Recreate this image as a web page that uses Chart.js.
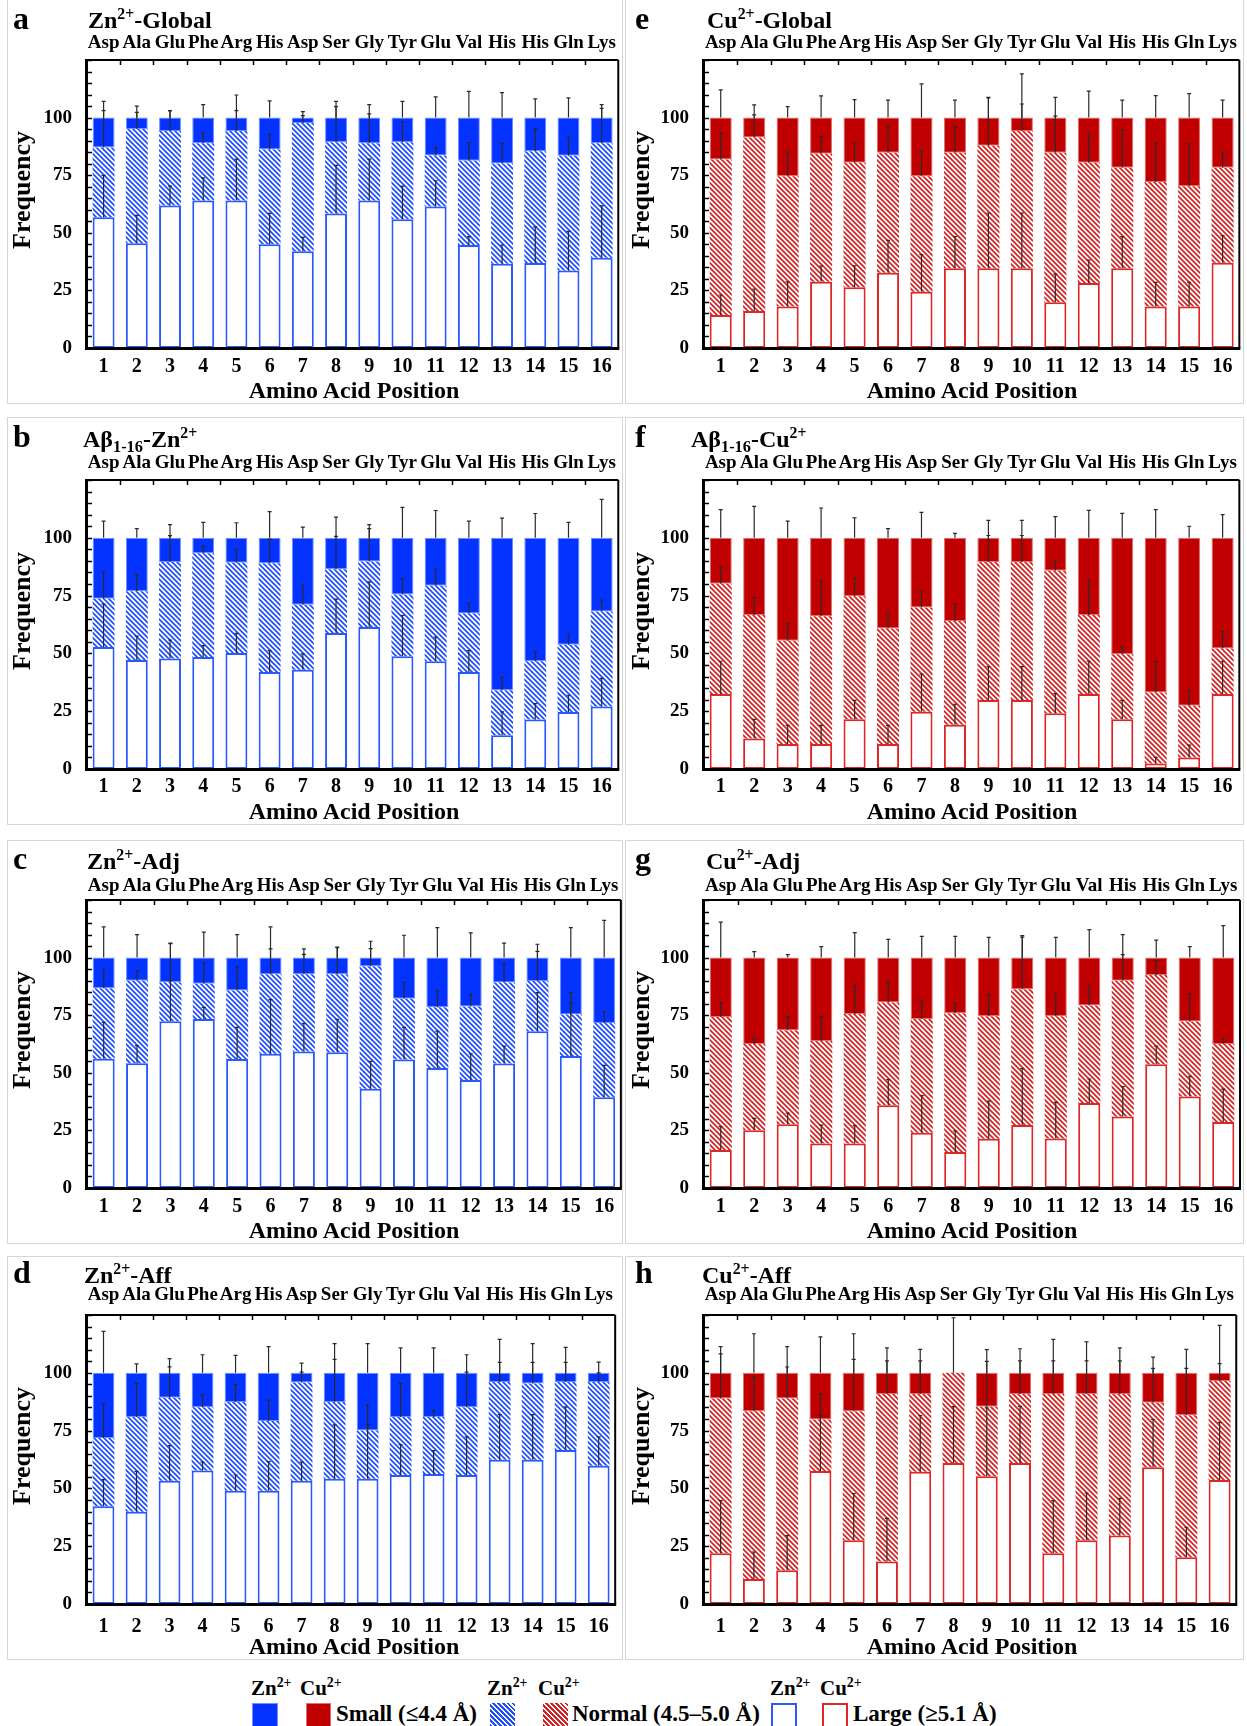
<!DOCTYPE html>
<html>
<head>
<meta charset="utf-8">
<script src="https://cdn.jsdelivr.net/npm/chart.js@4.4.1/dist/chart.umd.min.js"></script>
<style>
  body { margin: 0; background: #fff; width: 1247px; height: 1726px; position: relative; overflow: hidden;
         font-family: "Liberation Serif", "Times New Roman", serif; font-weight: bold; color: #000; }
  .box { position: absolute; border: 1px solid #d6d6d6; box-sizing: border-box; }
  canvas { position: absolute; }
  .t { position: absolute; white-space: nowrap; line-height: 1; }
  sup { font-size: 0.66em; vertical-align: 0.55em; line-height: 0; }
  sub { font-size: 0.68em; vertical-align: -0.28em; line-height: 0; }
  .sw { position: absolute; box-sizing: border-box; }
</style>
</head>
<body>
<script>
// ---- categories ----
const positions = ["1","2","3","4","5","6","7","8","9","10","11","12","13","14","15","16"];
const residues = ["Asp","Ala","Glu","Phe","Arg","His","Asp","Ser","Gly","Tyr","Glu","Val","His","His","Gln","Lys"];

// ---- a: Zn2+-Global ----
const znGlobalLarge  = [56.8,45.5,61.8,64.0,64.0,45.0,42.0,58.4,64.0,55.9,61.4,44.7,36.6,36.9,33.6,39.2];
const znGlobalNormal = [30.2,49.5,32.4,24.9,30.2,41.2,55.7,30.9,24.9,33.4,22.2,36.6,43.5,48.5,49.8,49.7];
const znGlobalSmall  = [13.0,5.0,5.8,11.1,5.8,13.8,2.3,10.7,11.1,10.7,16.4,18.7,19.9,14.6,16.6,11.1];
const znGlobalErrLarge  = [18.1,12.1,8.5,9.8,18.0,13.4,6.0,20.9,18.0,14.4,11.2,3.6,8.1,15.7,17.0,22.5];
const znGlobalErrNormal = [16.0,7.3,8.8,4.5,8.8,6.6,3.2,15.5,12.7,8.8,3.4,7.9,8.7,9.8,8.4,15.1];
const znGlobalErrSmall  = [7.0,5.0,3.0,5.6,9.8,7.3,2.6,7.0,5.6,7.0,9.0,11.4,10.8,8.1,8.6,5.6];

// ---- b: Ab1-16-Zn2+ ----
const abZnLarge  = [52.8,47.1,47.8,48.4,50.2,42.0,42.9,58.8,61.4,48.8,46.6,42.0,14.6,21.4,24.7,27.0];
const abZnNormal = [20.8,29.8,41.7,44.9,39.0,47.0,28.1,27.6,28.3,26.7,32.7,25.3,19.5,25.2,29.0,41.1];
const abZnSmall  = [26.4,23.1,10.5,6.7,10.8,11.0,29.0,13.6,10.3,24.5,20.7,32.7,65.9,53.4,46.3,31.9];
const abZnErrLarge  = [18.5,10.4,8.0,5.0,8.5,9.2,6.9,14.7,19.5,17.6,10.4,9.2,10.1,6.9,7.2,12.2];
const abZnErrNormal = [11.6,7.3,11.4,3.0,5.8,10.4,8.9,14.2,14.3,6.7,7.2,4.4,5.6,4.3,4.7,4.9];
const abZnErrSmall  = [7.2,4.0,5.7,6.7,6.5,11.3,4.6,8.9,5.7,13.2,11.8,7.2,8.5,10.5,6.7,16.6];

// ---- c: Zn2+-Adj ----
const znAdjLarge  = [56.1,54.1,72.4,73.3,56.0,58.3,59.2,58.9,43.1,55.8,52.1,46.9,54.0,68.0,57.3,39.4];
const znAdjNormal = [30.6,35.9,16.9,15.4,29.7,34.5,33.6,33.9,53.1,26.3,26.3,31.9,35.2,21.8,18.0,32.2];
const znAdjSmall  = [13.3,10.0,10.7,11.3,14.3,7.2,7.2,7.2,3.8,17.9,21.6,21.2,10.8,10.2,24.7,28.4];
const znAdjErrLarge  = [15.8,7.7,17.6,5.1,13.7,23.5,12.2,14.3,11.9,13.9,16.0,11.3,7.6,16.8,22.8,13.8];
const znAdjErrNormal = [8.1,4.4,16.8,9.0,10.3,11.0,8.6,11.5,7.7,7.2,7.3,5.3,8.2,12.9,9.5,5.0];
const znAdjErrSmall  = [13.3,10.0,6.3,11.1,10.0,13.3,3.8,4.6,7.1,9.7,13.0,10.7,6.3,5.8,13.0,16.2];

// ---- d: Zn2+-Aff ----
const znAffLarge  = [42.3,39.9,53.3,57.7,49.0,49.0,53.3,54.2,54.2,55.8,56.2,55.8,62.4,62.4,66.6,59.8];
const znAffNormal = [29.5,41.0,35.9,27.4,38.4,30.2,42.5,33.2,20.8,25.1,24.7,29.3,33.6,33.0,29.4,36.2];
const znAffSmall  = [28.2,19.1,10.8,14.9,12.6,20.8,4.2,12.6,25.0,19.1,19.1,14.9,4.0,4.6,4.0,4.0];
const znAffErrLarge  = [11.5,17.5,15.2,3.7,6.8,12.6,8.1,23.3,23.3,13.1,10.1,16.5,19.5,19.5,18.7,12.5];
const znAffErrNormal = [15.0,14.5,13.4,5.4,7.5,9.0,4.5,18.4,11.1,14.5,2.6,15.2,8.5,9.1,8.5,4.0];
const znAffErrSmall  = [17.9,3.9,6.1,7.8,7.5,11.3,4.2,12.6,12.6,10.8,10.8,7.8,14.5,12.6,11.0,4.6];

// ---- e: Cu2+-Global ----
const cuGlobalLarge  = [14.3,16.1,18.0,28.8,26.4,32.7,24.4,34.6,34.6,34.6,19.9,28.2,34.6,18.0,18.0,37.0];
const cuGlobalNormal = [67.5,75.3,56.5,55.5,54.0,52.0,50.1,50.1,53.2,59.6,64.8,52.2,43.6,54.0,52.2,41.2];
const cuGlobalSmall  = [18.2,8.6,25.5,15.7,19.6,15.3,25.5,15.3,12.2,5.8,15.3,19.6,21.8,28.0,29.8,21.8];
const cuGlobalErrLarge  = [8.7,9.5,10.7,6.8,9.3,14.0,16.1,13.8,24.0,24.0,12.2,10.0,13.7,10.5,10.5,11.8];
const cuGlobalErrNormal = [11.6,9.8,10.5,7.5,8.8,11.8,11.1,11.3,20.7,11.7,15.9,12.5,16.5,17.2,18.4,6.8];
const cuGlobalErrSmall  = [12.0,5.5,4.8,9.4,7.8,7.6,14.6,7.6,8.8,19.0,8.8,11.5,7.6,9.5,10.4,7.6];

// ---- f: Ab1-16-Cu2+ ----
const abCuLarge  = [32.4,13.2,10.8,10.8,21.5,10.8,24.8,19.1,29.8,29.8,24.1,32.4,21.5,2.4,5.0,32.4];
const abCuNormal = [47.7,53.4,44.7,55.3,53.2,50.0,45.1,44.9,59.7,59.7,61.6,34.2,28.1,30.7,22.4,19.7];
const abCuSmall  = [19.9,33.4,44.5,33.9,25.3,39.2,30.1,36.0,10.5,10.5,14.3,33.4,50.4,66.9,72.6,47.9];
const abCuErrLarge  = [14.2,8.3,8.1,8.1,8.2,8.1,16.2,8.9,14.5,14.5,8.5,14.2,8.2,2.6,5.3,14.2];
const abCuErrNormal = [7.3,7.4,7.6,15.5,7.9,7.1,7.1,7.3,11.5,11.5,4.0,15.0,3.3,13.4,6.6,7.3];
const abCuErrSmall  = [12.2,13.6,7.2,12.9,8.6,4.0,11.0,1.9,7.5,7.5,9.2,11.9,10.6,12.2,5.0,10.0];

// ---- g: Cu2+-Adj ----
const cuAdjLarge  = [16.5,25.1,27.7,19.3,19.3,35.9,24.0,15.6,21.4,27.3,21.5,36.9,31.0,53.7,39.7,28.6];
const cuAdjNormal = [57.7,37.4,40.8,44.5,56.2,44.6,49.3,60.3,53.1,59.0,53.0,42.3,58.9,38.7,32.6,33.9];
const cuAdjSmall  = [25.8,37.5,31.5,36.2,24.5,19.5,26.7,24.1,25.5,13.7,25.5,20.8,10.1,7.6,27.7,37.5];
const cuAdjErrLarge  = [10.1,5.1,4.8,8.0,7.8,11.1,16.1,9.2,16.3,24.5,15.7,10.4,13.0,7.9,8.8,14.3];
const cuAdjErrNormal = [6.3,2.4,5.8,10.5,12.2,9.1,7.7,4.2,9.5,22.6,9.5,8.7,11.4,6.4,12.1,2.4];
const cuAdjErrSmall  = [15.4,2.6,1.3,4.8,10.8,7.9,9.2,9.2,8.8,9.5,8.8,12.1,10.0,7.6,4.8,13.9];

// ---- h: Cu2+-Aff ----
const cuAffLarge  = [22.0,10.8,14.6,57.5,27.6,18.4,57.2,61.0,55.3,61.0,22.0,27.6,29.6,59.1,20.2,53.6];
const cuAffNormal = [66.9,72.6,74.3,22.3,55.8,72.4,33.6,39.0,30.0,29.8,68.8,63.2,61.2,27.9,61.4,42.8];
const cuAffSmall  = [11.1,16.6,11.1,20.2,16.6,9.2,9.2,0,14.7,9.2,9.2,9.2,9.2,13.0,18.4,3.6];
const cuAffErrLarge  = [22.7,11.7,15.0,24.1,20.2,18.6,24.3,24.4,29.5,24.5,22.7,20.4,16.1,20.7,13.0,25.0];
const cuAffErrNormal = [19.3,14.9,13.6,11.2,22.4,14.4,14.4,23.8,19.6,14.4,14.4,14.4,14.4,14.9,20.3,7.6];
const cuAffErrSmall  = [11.3,16.9,11.3,15.5,16.9,10.8,10.1,0,10.0,10.4,14.5,13.4,10.8,6.8,10.1,20.5];

const FONT = '"Liberation Serif", "Times New Roman", serif';

const colors = {
  zn: { solid: "#0433ff", edge: "#2a58ff", hatch: "#1f4dff", soft: "#6f8fff" },
  cu: { solid: "#c00000", edge: "#de2626", hatch: "#d42222", soft: "#e07070" }
};

// page layout, in px
const rowGeo = [
  { top: -2,   h: 406, chartTop: 62, chartBottom: 350, resPad: 7,  numPad: 9,  base: 28.5 },
  { top: 417,  h: 408, chartTop: 63, chartBottom: 352, resPad: 7,  numPad: 8,  base: 447 },
  { top: 840,  h: 404, chartTop: 60, chartBottom: 348, resPad: 4.5, numPad: 8.5, base: 869 },
  { top: 1256, h: 404, chartTop: 59, chartBottom: 348, resPad: 10, numPad: 13, base: 1283 }
];
const colGeo = [
  { left: 7,   w: 616, chartLeft: 80, chartRight: 614, letterX: 13,  freqX: 22 },
  { left: 625, w: 619, chartLeft: 79, chartRight: 615, letterX: 635, freqX: 641 }
];

const panels = [
  { letter: "a", row: 0, col: 0, ion: "zn", title: "Zn<sup>2+</sup>-Global", tx: 88,
    d: [znGlobalLarge, znGlobalNormal, znGlobalSmall], e: [znGlobalErrLarge, znGlobalErrNormal, znGlobalErrSmall] },
  { letter: "b", row: 1, col: 0, ion: "zn", title: "A&beta;<sub>1-16</sub>-Zn<sup>2+</sup>", tx: 83,
    d: [abZnLarge, abZnNormal, abZnSmall], e: [abZnErrLarge, abZnErrNormal, abZnErrSmall] },
  { letter: "c", row: 2, col: 0, ion: "zn", title: "Zn<sup>2+</sup>-Adj", tx: 87,
    d: [znAdjLarge, znAdjNormal, znAdjSmall], e: [znAdjErrLarge, znAdjErrNormal, znAdjErrSmall] },
  { letter: "d", row: 3, col: 0, ion: "zn", title: "Zn<sup>2+</sup>-Aff", tx: 84,
    d: [znAffLarge, znAffNormal, znAffSmall], e: [znAffErrLarge, znAffErrNormal, znAffErrSmall] },
  { letter: "e", row: 0, col: 1, ion: "cu", title: "Cu<sup>2+</sup>-Global", tx: 707,
    d: [cuGlobalLarge, cuGlobalNormal, cuGlobalSmall], e: [cuGlobalErrLarge, cuGlobalErrNormal, cuGlobalErrSmall] },
  { letter: "f", row: 1, col: 1, ion: "cu", title: "A&beta;<sub>1-16</sub>-Cu<sup>2+</sup>", tx: 691,
    d: [abCuLarge, abCuNormal, abCuSmall], e: [abCuErrLarge, abCuErrNormal, abCuErrSmall] },
  { letter: "g", row: 2, col: 1, ion: "cu", title: "Cu<sup>2+</sup>-Adj", tx: 706,
    d: [cuAdjLarge, cuAdjNormal, cuAdjSmall], e: [cuAdjErrLarge, cuAdjErrNormal, cuAdjErrSmall] },
  { letter: "h", row: 3, col: 1, ion: "cu", title: "Cu<sup>2+</sup>-Aff", tx: 702,
    d: [cuAffLarge, cuAffNormal, cuAffSmall], e: [cuAffErrLarge, cuAffErrNormal, cuAffErrSmall] }
];

function hatch(color) {
  const c = document.createElement("canvas");
  c.width = c.height = 5;
  const g = c.getContext("2d");
  g.fillStyle = "#fff";
  g.fillRect(0, 0, 5, 5);
  g.strokeStyle = color;
  g.lineWidth = 1.7;
  g.beginPath();
  g.moveTo(-1, -1); g.lineTo(6, 6);
  g.moveTo(-1, 4);  g.lineTo(1, 6);
  g.moveTo(4, -1);  g.lineTo(6, 1);
  g.stroke();
  return g.createPattern(c, "repeat");
}

// error bars (upper half only) + plot frame with inner ticks
const decor = {
  id: "decor",
  afterDatasetsDraw(chart) {
    const { ctx, chartArea: a, scales: { x, y } } = chart;
    const sets = chart.data.datasets;

    ctx.save();
    ctx.beginPath();
    ctx.rect(a.left, a.top, a.right - a.left, a.bottom - a.top);
    ctx.clip();
    ctx.strokeStyle = "#2a2a2a";
    ctx.lineWidth = 1.2;
    sets.forEach((ds, i) => {
      chart.getDatasetMeta(i).data.forEach((bar, j) => {
        const err = ds.errors[j];
        if (!err || !ds.data[j]) return;
        let top = 0;
        for (let k = 0; k <= i; k++) top += sets[k].data[j];
        const y0 = y.getPixelForValue(top);
        const y1 = y.getPixelForValue(top + err);
        ctx.beginPath();
        ctx.moveTo(bar.x, y0); ctx.lineTo(bar.x, y1);
        ctx.moveTo(bar.x - 2, y1); ctx.lineTo(bar.x + 2, y1);
        ctx.stroke();
      });
    });
    ctx.restore();

    ctx.save();
    ctx.strokeStyle = "#000";
    ctx.lineWidth = 1.5;
    ctx.beginPath();
    for (let v = 5; v <= 125; v += 5) {
      const py = Math.round(y.getPixelForValue(v)) + 0.5;
      ctx.moveTo(a.left, py); ctx.lineTo(a.left + 5, py);
    }
    for (let j = 1; j < positions.length; j++) {
      const px = Math.round((x.getPixelForValue(j - 1) + x.getPixelForValue(j)) / 2) + 0.5;
      ctx.moveTo(px, a.top); ctx.lineTo(px, a.top + 5);
    }
    ctx.stroke();
    ctx.lineWidth = 2;
    ctx.beginPath();
    ctx.moveTo(a.left, a.top); ctx.lineTo(a.right, a.top);
    ctx.moveTo(a.right, a.top); ctx.lineTo(a.right, a.bottom);
    ctx.stroke();
    ctx.lineWidth = 3;
    ctx.beginPath();
    ctx.moveTo(a.left - 0.5, a.top - 1); ctx.lineTo(a.left - 0.5, a.bottom + 2);
    ctx.moveTo(a.left - 2, a.bottom + 0.5); ctx.lineTo(a.right + 1, a.bottom + 0.5);
    ctx.stroke();
    ctx.restore();
  }
};

function addText(html, left, top, size, extra) {
  const el = document.createElement("div");
  el.className = "t";
  el.innerHTML = html;
  el.style.left = left + "px";
  el.style.top = top + "px";
  el.style.fontSize = size + "px";
  if (extra) Object.assign(el.style, extra);
  document.body.appendChild(el);
  return el;
}

function buildPanel(p) {
  const r = rowGeo[p.row], c = colGeo[p.col], col = colors[p.ion];

  const box = document.createElement("div");
  box.className = "box";
  Object.assign(box.style, { left: c.left + "px", top: r.top + "px", width: c.w + "px", height: r.h + "px" });
  document.body.appendChild(box);

  const cv = document.createElement("canvas");
  cv.width = c.w; cv.height = r.h;
  Object.assign(cv.style, { left: c.left + "px", top: r.top + "px", width: c.w + "px", height: r.h + "px" });
  document.body.appendChild(cv);

  const tickFont = size => ({ family: FONT, size: size, weight: "bold", lineHeight: 1 });

  new Chart(cv, {
    type: "bar",
    data: {
      labels: positions,
      datasets: [
        { data: p.d[0], errors: p.e[0], backgroundColor: "#fff", borderColor: col.edge, borderWidth: 2, borderSkipped: false },
        { data: p.d[1], errors: p.e[1], backgroundColor: hatch(col.hatch), borderWidth: 0 },
        { data: p.d[2], errors: p.e[2], backgroundColor: col.solid, borderColor: col.soft, borderWidth: 1, borderSkipped: false }
      ]
    },
    options: {
      responsive: false,
      animation: false,
      layout: { padding: { left: 0, top: 0, right: c.w - c.chartRight, bottom: 0 } },
      datasets: { bar: { barPercentage: 0.66, categoryPercentage: 1 } },
      plugins: { legend: { display: false }, tooltip: { enabled: false } },
      scales: {
        x: {
          position: "bottom", stacked: true, offset: true,
          grid: { display: false, drawTicks: false }, border: { display: false },
          ticks: { font: tickFont(20), color: "#000", padding: r.numPad, autoSkip: false, maxRotation: 0 },
          afterFit: s => { s.height = r.h - r.chartBottom; }
        },
        x2: {
          type: "category", position: "top", labels: residues, offset: true,
          grid: { display: false, drawTicks: false }, border: { display: false },
          ticks: { font: tickFont(19), color: "#000", padding: r.resPad, autoSkip: false, maxRotation: 0 },
          afterFit: s => { s.height = r.chartTop; }
        },
        y: {
          stacked: true, min: 0, max: 125,
          grid: { display: false, drawTicks: false }, border: { display: false },
          ticks: { stepSize: 25, font: tickFont(19), color: "#000", padding: 15,
                   callback: v => (v > 100 ? "" : v) },
          afterFit: s => { s.width = c.chartLeft; }
        }
      }
    },
    plugins: [decor]
  });

  // panel letter and title
  addText(p.letter, c.letterX, r.base - 26.8, 32);
  addText(p.title, p.tx, r.base - 20.1, 24);

  // axis titles
  const plotTop = r.top + r.chartTop, plotBottom = r.top + r.chartBottom;
  const cy = (plotTop + plotBottom) / 2 - 14;
  addText("Frequency", c.freqX - 100, cy - 13, 26,
          { width: "200px", textAlign: "center", transform: "rotate(-90deg)" });
  const cx = c.left + (c.chartLeft + c.chartRight) / 2;
  addText("Amino Acid Position", cx - 200, plotBottom + 41.7 - 12.2, 24,
          { width: "400px", textAlign: "center" });
}

panels.forEach(buildPanel);

// ---- legend ----
function swatch(left, w, style) {
  const el = document.createElement("div");
  el.className = "sw";
  Object.assign(el.style, { left: left + "px", top: "1703px", width: w + "px", height: "28px" }, style);
  document.body.appendChild(el);
}
const stripes = c => `repeating-linear-gradient(45deg, ${c} 0 1.7px, #fff 1.7px 3.5px)`;

[[251, 300], [487, 538], [770, 820]].forEach(([zx, cx]) => {
  addText("Zn<sup>2+</sup>", zx, 1696 - 17.6, 21);
  addText("Cu<sup>2+</sup>", cx, 1696 - 17.6, 21);
});
swatch(252, 26, { background: colors.zn.solid, border: "1px solid " + colors.zn.soft });
swatch(306, 25, { background: colors.cu.solid, border: "1px solid " + colors.cu.soft });
addText("Small (&le;4.4 &Aring;)", 336, 1721 - 19.3, 23);
swatch(490, 25, { background: stripes(colors.zn.hatch) });
swatch(543, 25, { background: stripes(colors.cu.hatch) });
addText("Normal (4.5&ndash;5.0 &Aring;)", 572, 1721 - 19.3, 23);
swatch(771, 26, { background: "#fff", border: "2px solid " + colors.zn.edge });
swatch(822, 26, { background: "#fff", border: "2px solid " + colors.cu.edge });
addText("Large (&ge;5.1 &Aring;)", 853, 1721 - 19.3, 23);
</script>
</body>
</html>
